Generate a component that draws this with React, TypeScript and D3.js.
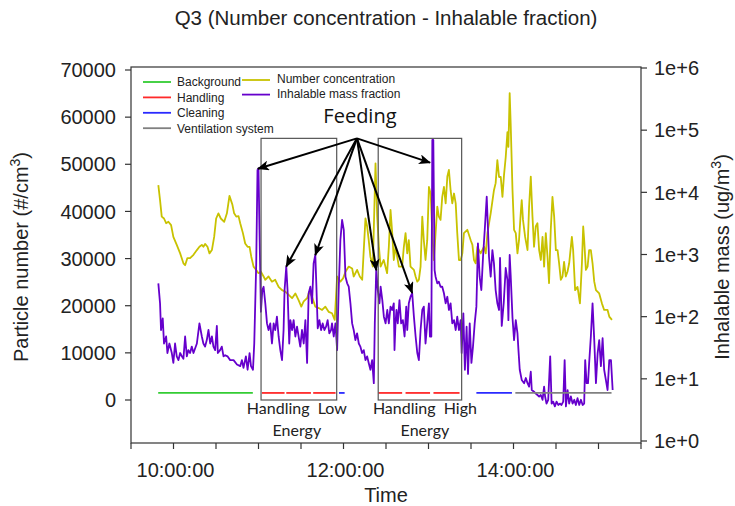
import React from "react";
import * as d3 from "d3";

const W = 735;
const H = 506;

const chartTitle = "Q3 (Number concentration - Inhalable fraction)";
const xLabel = "Time";

// minutes after midnight
const numberTimeMin = [
  589.3,590.5,591.7,593.3,594.8,596.4,598.3,599.9,602.3,604.7,
  607.0,608.2,609.8,611.7,614.1,616.5,618.3,620.0,621.1,622.3,
  624.0,625.4,627.1,628.7,630.1,631.7,633.4,635.8,637.7,639.5,
  640.5,641.6,642.8,644.3,645.9,647.1,649.0,650.6,652.3,653.7,
  654.9,656.5,658.4,660.0,661.7,663.6,664.8,667.1,669.5,671.8,
  674.2,676.6,678.9,681.3,683.7,686.0,688.3,690.2,691.9,694.3,
  695.9,697.8,700.1,702.5,704.9,707.2,709.5,711.9,713.8,715.5,
  717.8,719.7,721.4,723.7,726.1,727.2,729.6,731.5,733.2,734.3,
  735.5,736.7,737.8,739.0,740.7,742.6,743.8,745.0,746.2,748.4,
  750.8,752.0,753.2,754.4,755.5,756.7,759.1,761.4,762.6,763.8,
  765.0,766.1,767.3,769.7,770.9,772.1,773.2,774.4,775.6,776.7,
  777.9,779.1,780.3,781.5,782.7,783.8,785.0,786.2,787.3,788.5,
  789.7,790.9,792.1,793.3,794.4,795.6,796.8,798.0,799.2,800.3,
  801.5,802.7,803.9,805.0,807.4,809.8,811.0,812.1,813.3,814.5,
  816.8,819.2,820.4,821.6,823.9,826.2,827.4,828.6,829.8,831.0,
  832.2,833.3,834.5,835.7,836.4,837.3,838.0,839.3,840.4,841.6,
  842.8,843.9,845.1,845.8,846.7,848.2,849.9,851.0,852.2,853.4,
  854.5,855.7,856.9,858.1,859.3,860.5,861.6,862.8,864.0,865.1,
  866.3,867.5,868.7,869.9,871.1,872.2,873.4,874.6,875.7,876.9,
  878.1,879.3,881.2,882.1,883.5,885.2,886.9,888.3,889.2,889.9,
  891.1,892.3,893.4,894.6,895.8,897.0,898.2,900.5,902.4,904.0,
  906.4,907.6,909.5,
];
// #/cm3
const numberConc = [
  45600,42400,38900,38500,37500,37800,37100,34600,32900,31100,
  29000,28600,30100,30100,30800,31800,32500,32900,32500,33100,
  32500,31100,31800,34600,38500,39600,38500,37800,39600,43300,
  42400,41400,39600,38900,39000,37500,35400,33200,32500,32500,
  30400,28300,27600,26900,27200,26200,25500,26200,25100,25500,
  24000,23300,23000,22300,21600,22600,21200,19800,20900,21600,
  23000,21900,19800,19500,19100,19800,18700,18400,17000,26200,
  25100,25800,27200,28300,27900,26200,27600,26200,25500,31800,
  38500,36800,33900,30400,28300,50200,38900,32500,28300,29700,
  26900,32500,40300,35400,29700,32500,28300,28300,32500,35400,
  31100,33900,28300,27600,26200,25100,25500,28300,38900,33900,
  29700,33900,45200,43800,35400,29700,35400,41000,38900,38200,
  43100,45200,41700,47400,48800,44500,41700,43800,41700,35400,
  29700,29700,31100,35400,36100,33900,32900,29700,29000,32500,
  31100,32500,31100,35400,39600,44500,46000,50900,47300,47300,
  43100,47700,51500,56800,53700,65100,58700,44500,36100,35400,
  31100,33900,39600,42400,38200,34600,31800,41000,47400,38900,
  32500,36800,37500,31800,29700,34600,28300,35400,30400,24800,
  36100,43100,38900,31800,31800,29000,25500,26200,29300,26200,
  27200,29000,34600,31800,23300,24000,20500,29000,36800,33900,
  27600,28300,31800,31800,29000,25100,23300,22600,20500,19100,
  19100,17700,17000,
];

const massTimeMin = [
  589.3,590.5,591.2,592.4,593.3,594.8,595.7,597.1,598.8,599.9,
  601.1,602.3,603.5,604.7,605.9,607.0,608.2,609.4,610.5,611.7,
  612.9,614.1,616.5,618.3,620.0,621.1,622.3,623.5,624.7,625.9,
  627.1,628.2,629.4,630.6,631.3,632.9,634.1,635.3,636.5,638.1,
  640.0,642.4,644.8,647.1,648.3,649.4,651.1,652.3,653.7,654.7,
  656.1,657.0,658.4,659.3,660.0,660.7,661.7,662.7,663.6,664.8,
  666.0,667.1,668.3,669.5,670.7,671.8,673.0,674.2,675.4,676.6,
  677.7,678.4,679.6,680.5,681.7,682.5,683.7,684.8,686.0,687.2,
  688.3,689.5,690.7,691.9,693.1,694.3,695.4,696.6,697.8,698.9,
  700.1,700.8,701.8,703.0,704.2,705.3,706.5,707.7,708.8,710.0,
  711.2,711.9,713.1,714.3,715.5,716.6,717.8,719.0,720.2,721.4,
  722.6,723.7,724.9,726.1,727.2,728.4,729.6,730.8,731.9,733.1,
  734.3,735.5,736.7,737.8,739.0,740.2,741.4,742.1,743.1,744.2,
  745.4,746.2,747.4,748.5,749.7,750.9,752.0,753.2,754.4,755.5,
  756.0,756.7,757.4,758.3,759.5,760.7,761.9,763.1,764.3,765.0,
  766.1,767.3,768.5,769.7,770.9,772.1,773.2,774.4,775.6,776.7,
  777.9,779.1,780.3,781.0,782.0,782.7,783.4,784.3,785.0,786.2,
  787.3,788.5,789.7,790.9,792.1,793.3,794.4,795.6,796.8,798.0,
  799.2,800.3,801.5,802.7,803.4,804.6,805.7,806.9,807.9,809.1,
  810.3,811.4,812.6,813.8,814.9,816.1,817.3,818.5,819.7,821.1,
  822.0,822.7,823.9,825.1,826.2,827.4,828.6,829.8,830.5,831.7,
  833.1,834.5,835.7,836.4,837.3,838.0,839.3,840.4,841.6,842.8,
  843.5,844.4,845.8,847.5,848.7,849.9,851.0,852.2,852.9,854.5,
  855.7,856.9,858.1,859.3,860.5,861.6,862.3,863.3,864.5,865.9,
  866.9,868.0,869.2,870.4,871.6,872.7,873.9,875.1,876.1,877.0,
  878.2,879.3,880.5,881.7,882.9,884.0,885.2,886.4,887.6,888.8,
  889.9,890.6,891.6,892.6,893.4,894.6,895.8,897.0,898.2,899.4,
  900.5,901.7,902.9,904.0,905.2,906.4,907.6,908.8,910.0,
];
// ug/m3
const inhalableMass = [
  344,164,61,94,37,48,26,37,26,18,
  37,23,20,26,23,21,48,23,29,26,
  33,26,37,78,48,37,33,42,61,37,
  48,33,29,71,26,29,33,23,24,23,
  20,20,17,16,20,15,23,14,26,16,
  14,37,721,22900,24300,2480,120,268,303,164,
  78,61,78,37,78,61,100,48,29,20,
  61,268,637,268,37,88,61,88,48,69,
  48,33,61,37,88,18,238,303,164,721,
  982,344,65,88,61,78,61,69,88,54,
  61,78,48,78,29,268,1710,3590,2480,439,
  344,303,164,78,61,42,54,37,33,26,
  29,20,23,18,14,20,8.5,78,563,268,
  164,303,185,100,78,128,78,145,128,164,
  29,78,128,78,185,78,88,48,145,61,
  164,209,238,100,48,26,20,61,128,145,
  37,78,164,48,48,69500,69500,563,439,344,
  365,303,303,238,164,209,128,164,78,88,
  61,100,61,88,26,113,14,69,12,78,
  18,33,78,145,1510,439,268,921,2480,8500,
  2480,921,439,1180,721,268,164,128,879,71,
  166,606,389,88,982,468,95,42,88,54,
  29,14,9.6,8.5,10.3,8.5,7.5,13,6.6,6.2,
  5.8,5.5,5.2,5.5,4.6,7.5,5.2,4.0,4.6,23,
  4.0,4.3,3.6,4.3,3.8,4.0,3.8,4.3,20,3.6,
  6.6,4.0,5.2,4.0,4.6,3.8,4.9,3.8,4.6,3.8,
  4.0,20,8.5,8.5,18,48,164,42,8.5,26,
  42,16,45,14,9.6,6.6,20,20,6.6,
];

// activity periods [start, end] in minutes after midnight
const backgroundPeriods = [[589.2, 656.0]];
const handlingPeriods = [
  [662.4, 678.4], [679.6, 697.0], [698.6, 714.4],
  [744.6, 761.4], [763.8, 781.1], [783.5, 801.9],
];
const cleaningPeriods = [[716.8, 720.8], [813.8, 838.9]];
const ventilationPeriods = [[841.3, 909.2]];
const activityLevel = 1500;

const activityNames = ["Background", "Handling", "Cleaning", "Ventilation system"];
const activityColors = ["#33cc33", "#ff2a2a", "#2a2aff", "#808080"];
const seriesNames = ["Number concentration", "Inhalable mass fraction"];
const seriesColors = ["#c8c200", "#6600cc"];

const handlingBoxes = [
  { start: 661.8, end: 715.2, lines: ["Handling  Low", "Energy"], dx: -2 },
  { start: 744.5, end: 803.4, lines: ["Handling  High", "Energy"], dx: 5 },
];
const boxTopValue = 55500;

const feedingLabel = "Feeding";
const feedingOrigin = [729.5, 55500];
const feedingTargets = [
  [659.6, 24000], [679.6, 640], [700.1, 980],
  [743.1, 560], [768.5, 240], [781.1, 30000],
];

const xTickMinutes = d3.range(570, 931, 30);
const leftTicks = d3.range(0, 70001, 10000);
const rightTicks = [1, 10, 100, 1000, 10000, 100000, 1000000];

export default function App() {
  const left = 131, right = 641, top = 67, bottom = 443;
  const x = d3.scaleLinear().domain([570, 930]).range([left, right]);
  const yL = d3.scaleLinear().domain([0, 70000]).range([400, 70]);
  const yR = d3.scaleLog().domain([1, 1e6]).range([441, 68]);

  const numData = numberTimeMin.map((t, i) => ({ t, v: numberConc[i] }));
  const massData = massTimeMin.map((t, i) => ({ t, v: inhalableMass[i] }));

  const lineNum = d3.line<any>().x(d => x(d.t)).y(d => yL(d.v));
  const lineMass = d3.line<any>().x(d => x(d.t)).y(d => yR(d.v));

  const fmtTime = (m: number) => {
    const h = Math.floor(m / 60);
    const mm = m % 60;
    return `${h}:${String(mm).padStart(2, "0")}:00`;
  };

  const activityGroups = [backgroundPeriods, handlingPeriods, cleaningPeriods, ventilationPeriods];

  const sans = "'Liberation Sans', Arial, sans-serif";
  const annot = "Lato, 'Open Sans', sans-serif";
  const tickFont = 20;

  const [ox, oy] = [x(feedingOrigin[0]), yL(feedingOrigin[1])];

  return (
    <div style={{ position: "absolute", left: 0, top: 0 }}>
      <svg width={W} height={H} style={{ display: "block", background: "#fff" }}>
        <defs>
          <marker id="ah" viewBox="0 0 12 10" refX="11" refY="5" markerWidth="13" markerHeight="10"
            markerUnits="userSpaceOnUse" orient="auto">
            <path d="M0,0 L12,5 L0,10 L3,5 z" fill="#000" />
          </marker>
        </defs>

        <text x={(left + right) / 2} y={25} textAnchor="middle" fontFamily={sans} fontSize={20.5} fill="#222">
          {chartTitle}
        </text>

        {/* frame */}
        <rect x={left} y={top} width={right - left} height={bottom - top} fill="none" stroke="#333" strokeWidth={1.2} />

        {/* left axis */}
        {leftTicks.map(v => (
          <g key={"l" + v}>
            <line x1={left - 6} x2={left} y1={yL(v)} y2={yL(v)} stroke="#333" strokeWidth={1.2} />
            <text x={left - 15} y={yL(v)} dy="0.36em" textAnchor="end" fontFamily={sans} fontSize={tickFont} fill="#222">
              {v}
            </text>
          </g>
        ))}
        {/* right axis */}
        {rightTicks.map(v => (
          <g key={"r" + v}>
            <line x1={right} x2={right + 6} y1={yR(v)} y2={yR(v)} stroke="#333" strokeWidth={1.2} />
            <text x={right + 13} y={yR(v)} dy="0.36em" textAnchor="start" fontFamily={sans} fontSize={tickFont} fill="#222">
              {"1e+" + Math.round(Math.log10(v))}
            </text>
          </g>
        ))}
        {/* bottom axis */}
        {xTickMinutes.map(m => (
          <g key={"x" + m}>
            <line x1={x(m)} x2={x(m)} y1={bottom} y2={bottom + 6} stroke="#333" strokeWidth={1.2} />
            {m % 120 === 0 && (
              <text x={x(m) + 2} y={477} textAnchor="middle" fontFamily={sans} fontSize={tickFont} fill="#222">
                {fmtTime(m)}
              </text>
            )}
          </g>
        ))}
        <text x={(left + right) / 2} y={502} textAnchor="middle" fontFamily={sans} fontSize={20} fill="#222">
          {xLabel}
        </text>
        <text transform={`translate(28,${(top + bottom) / 2 + 2}) rotate(-90)`} textAnchor="middle"
          fontFamily={sans} fontSize={20} fill="#222">
          Particle number (#/cm<tspan fontSize={14} dy={-8}>3</tspan><tspan dy={8}>)</tspan>
        </text>
        <text transform={`translate(729,${(top + bottom) / 2 + 2}) rotate(-90)`} textAnchor="middle"
          fontFamily={sans} fontSize={20} fill="#222">
          Inhalable mass (ug/m<tspan fontSize={14} dy={-8}>3</tspan><tspan dy={8}>)</tspan>
        </text>

        {/* series */}
        <path d={lineNum(numData) || ""} fill="none" stroke={seriesColors[0]} strokeWidth={1.8} strokeLinejoin="round" />
        <path d={lineMass(massData) || ""} fill="none" stroke={seriesColors[1]} strokeWidth={1.8} strokeLinejoin="round" />

        {/* activity bars */}
        {activityGroups.map((g, gi) =>
          g.map((p, pi) => (
            <line key={`a${gi}-${pi}`} x1={x(p[0])} x2={x(p[1])} y1={yL(activityLevel)} y2={yL(activityLevel)}
              stroke={activityColors[gi]} strokeWidth={1.8} />
          ))
        )}

        {/* handling boxes */}
        {handlingBoxes.map((b, i) => (
          <g key={"b" + i}>
            <rect x={x(b.start)} y={yL(boxTopValue)} width={x(b.end) - x(b.start)} height={yL(0) - yL(boxTopValue)}
              fill="none" stroke="#555" strokeWidth={1.2} />
            {b.lines.map((s, li) => (
              <text key={li} x={(x(b.start) + x(b.end)) / 2 + b.dx} y={414 + li * 22} textAnchor="middle"
                fontFamily={annot} fontSize={16} fill="#222" style={{ whiteSpace: "pre" }}>
                {s}
              </text>
            ))}
          </g>
        ))}

        {/* feeding arrows */}
        <text x={ox + 3} y={123} textAnchor="middle" fontFamily="'Open Sans', sans-serif" fontSize={20} fill="#111">
          {feedingLabel}
        </text>
        {feedingTargets.map((p, i) => (
          <line key={"f" + i} x1={ox} y1={oy} x2={x(p[0])} y2={yR(p[1])} stroke="#000" strokeWidth={2}
            markerEnd="url(#ah)" />
        ))}

        {/* legend */}
        {activityNames.map((n, i) => (
          <g key={"lg" + i}>
            <line x1={143} x2={171} y1={82 + i * 15.4} y2={82 + i * 15.4} stroke={activityColors[i]} strokeWidth={1.8} />
            <text x={177} y={82 + i * 15.4} dy="0.36em" fontFamily={sans} fontSize={12} fill="#222">{n}</text>
          </g>
        ))}
        {seriesNames.map((n, i) => (
          <g key={"ls" + i}>
            <line x1={242} x2={270} y1={80 + i * 14.6} y2={80 + i * 14.6} stroke={seriesColors[i]} strokeWidth={1.8} />
            <text x={277} y={79 + i * 14.6} dy="0.36em" fontFamily={sans} fontSize={12} fill="#222">{n}</text>
          </g>
        ))}
      </svg>
    </div>
  );
}
